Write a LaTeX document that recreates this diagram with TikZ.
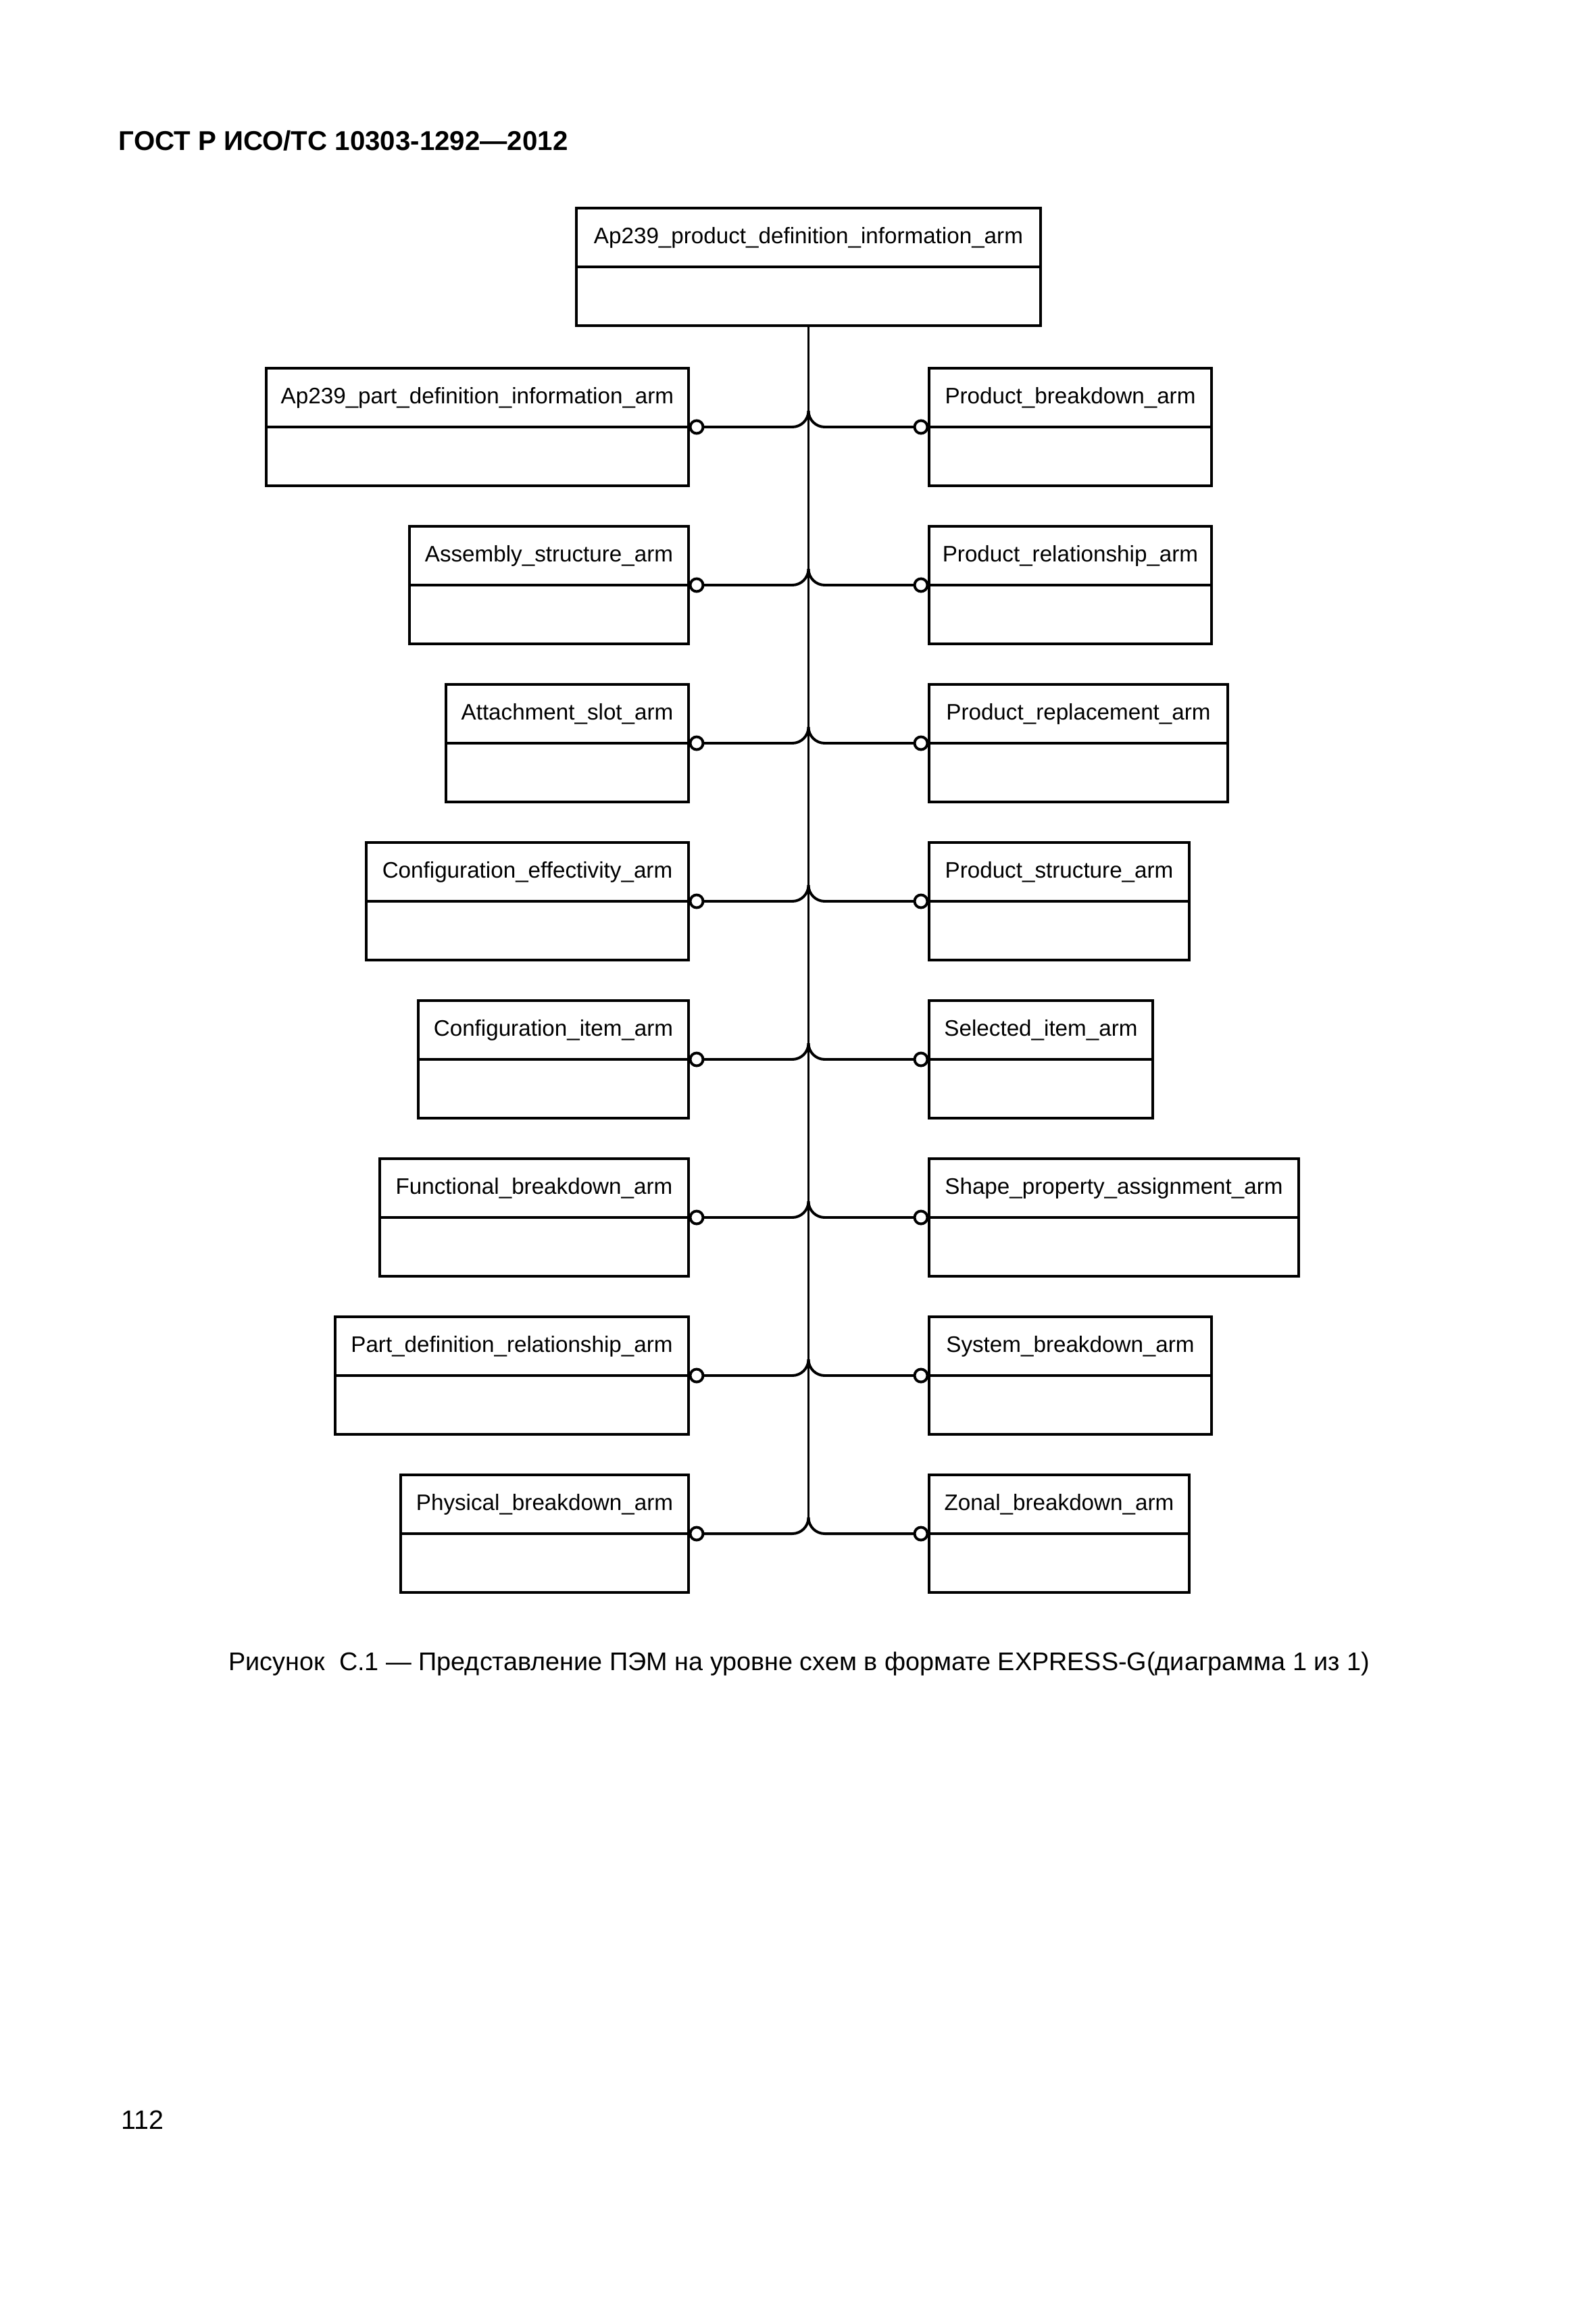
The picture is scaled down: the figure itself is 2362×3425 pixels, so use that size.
\documentclass[tikz,border=0pt]{standalone}
\usepackage{fontspec}
\setmainfont{Liberation Sans}
\usetikzlibrary{calc}
\def\u{0.2409pt}
\begin{document}
\begin{tikzpicture}[x=0.2409pt,y=-0.2409pt,
  cell/.style={draw, line width=0.95pt, inner sep=0pt, outer sep=0pt, minimum height={87*\u}, font=\fontsize{8}{9.6}\selectfont},
  conn/.style={line width=0.95pt},
  ring/.style={draw, circle, fill=white, line width=0.95pt, inner sep=0pt, outer sep=0pt, minimum size={19*\u}}]
\useasboundingbox[fill=white] (0,0) rectangle (2362,3425);

\node[anchor=west, inner sep=0pt, font=\bfseries\fontsize{9.7}{11.5}\selectfont] (hdr) at (175,208) {ГОСТ Р ИСО/ТС 10303-1292—2012};

\node[cell, minimum width={687*\u}, anchor=north west] (top) at (853,308) {\raisebox{-1pt}{Ap239\_product\_definition\_information\_arm}};
\node[cell, minimum width={687*\u}, anchor=north] (topb) at (top.south) {};
\coordinate (spineEnd) at ($(topb.south)+(0,1765)$);
\draw[conn] (topb.south) -- (spineEnd);

\foreach \i/\lx/\ltext/\rx/\rtext in {
  1/394/Ap239\_part\_definition\_information\_arm/1793/Product\_breakdown\_arm,
  2/606/Assembly\_structure\_arm/1793/Product\_relationship\_arm,
  3/660/Attachment\_slot\_arm/1817/Product\_replacement\_arm,
  4/542/Configuration\_effectivity\_arm/1760/Product\_structure\_arm,
  5/619/Configuration\_item\_arm/1706/Selected\_item\_arm,
  6/562/Functional\_breakdown\_arm/1922/Shape\_property\_assignment\_arm,
  7/496/Part\_definition\_relationship\_arm/1793/System\_breakdown\_arm,
  8/593/Physical\_breakdown\_arm/1760/Zonal\_breakdown\_arm}{
  \pgfmathsetmacro\yy{632+234*(\i-1)}
  % left box
  \node[cell, minimum width={(1019-\lx)*\u}, anchor=south west] (L\i) at (\lx,\yy) {\ltext};
  \node[cell, minimum width={(1019-\lx)*\u}, anchor=north] (L\i b) at (L\i.south) {};
  % right box
  \node[cell, minimum width={(\rx-1375)*\u}, anchor=south west] (R\i) at (1375,\yy) {\raisebox{1pt}{\rtext}};
  \node[cell, minimum width={(\rx-1375)*\u}, anchor=north] (R\i b) at (R\i.south) {};
  % circles
  \node[ring] (cL\i) at (1031,\yy) {};
  \node[ring] (cR\i) at (1363,\yy) {};
  % connectors
  \draw[conn] (cL\i.east) -- ($(cL\i.center -| topb.south)+(-24,0)$) arc[start angle=-90, end angle=0, radius={24*\u}];
  \draw[conn] (cR\i.west) -- ($(cR\i.center -| topb.south)+(24,0)$) arc[start angle=-90, end angle=-180, radius={24*\u}];
}

\node[inner sep=0pt, font=\fontsize{9.1}{11}\selectfont] (cap) at (1183,2463) {Рисунок\ \ С.1 — Представление ПЭМ на уровне схем в формате EXPRESS-G(диаграмма 1 из 1)};

\node[anchor=west, inner sep=0pt, font=\fontsize{9.5}{11.5}\selectfont] (pg) at (179,3138) {112};
\end{tikzpicture}
\end{document}
